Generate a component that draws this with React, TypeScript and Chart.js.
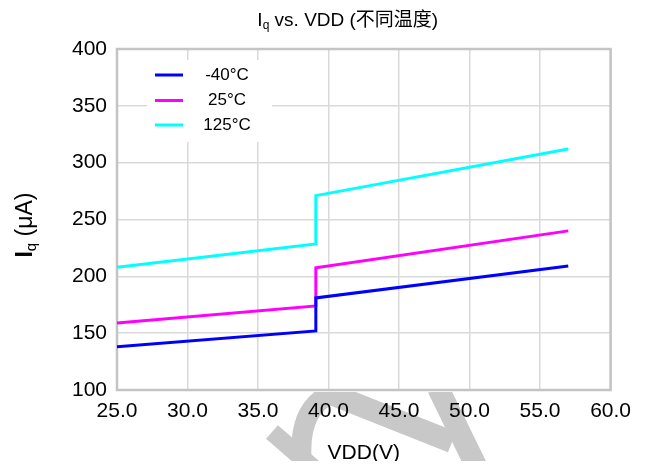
import React, { useEffect, useRef } from "react";
import { Chart, registerables } from "chart.js";

Chart.register(...registerables);

const FONT = "'Liberation Sans', Arial, 'Noto Sans CJK SC', sans-serif";

const seriesLabels = ["-40°C", "25°C", "125°C"];
const seriesColors = ["#0000ff", "#ff00ff", "#00ffff"];
const vdd = [25, 39.1, 39.1, 57];
const iqMinus40 = [138, 152, 181, 209];
const iq25 = [159, 174, 207.5, 240];
const iq125 = [208, 228.5, 271, 312];
const xTicks = [25, 30, 35, 40, 45, 50, 55, 60];
const yTicks = [100, 150, 200, 250, 300, 350, 400];
const titleMain = "I";
const titleSub = "q";
const titleRest = " vs. VDD (不同温度)";
const yTitleSub = "q";
const yTitleRest = " (μA)";
const xTitle = "VDD(V)";

const allSeries = [iqMinus40, iq25, iq125];

function drawSubText(
  ctx: CanvasRenderingContext2D,
  parts: { t: string; size: number; dy: number; bold?: boolean }[],
  cx: number,
  cy: number
) {
  let total = 0;
  const widths = parts.map((p) => {
    ctx.font = `${p.bold ? "bold " : ""}${p.size}px ${FONT}`;
    const w = ctx.measureText(p.t).width;
    total += w;
    return w;
  });
  let x = cx - total / 2;
  ctx.textBaseline = "middle";
  ctx.textAlign = "left";
  parts.forEach((p, i) => {
    ctx.font = `${p.bold ? "bold " : ""}${p.size}px ${FONT}`;
    ctx.fillText(p.t, x, cy + p.dy);
    x += widths[i];
  });
}

const decor = {
  id: "decor",
  beforeDraw(chart: any) {
    const ctx: CanvasRenderingContext2D = chart.ctx;
    const ca = chart.chartArea;
    ctx.save();
    ctx.fillStyle = "#ffffff";
    ctx.fillRect(0, 0, chart.width, chart.height);
    // watermark (page coords minus 8)
    ctx.beginPath();
    ctx.rect(0, ca.bottom + 2, chart.width, chart.height);
    ctx.clip();
    ctx.strokeStyle = "#c8c8c8";
    ctx.lineCap = "butt";
    const o = 8;
    ctx.lineWidth = 18;
    ctx.beginPath();
    ctx.moveTo(272 - o, 432 - o);
    ctx.lineTo(318 - o, 472 - o);
    ctx.stroke();
    ctx.lineWidth = 20;
    ctx.beginPath();
    ctx.moveTo(303 - o, 472 - o);
    ctx.quadraticCurveTo(294 - o, 410 - o, 332 - o, 393 - o);
    ctx.stroke();
    ctx.lineWidth = 22;
    ctx.beginPath();
    ctx.moveTo(326 - o, 392 - o);
    ctx.lineTo(452 - o, 442 - o);
    ctx.stroke();
    ctx.beginPath();
    ctx.moveTo(438 - o, 388 - o);
    ctx.lineTo(480 - o, 474 - o);
    ctx.stroke();
    ctx.restore();
  },
  beforeDatasetsDraw(chart: any) {
    const ctx: CanvasRenderingContext2D = chart.ctx;
    const ca = chart.chartArea;
    ctx.save();
    ctx.strokeStyle = "#c4c4c4";
    ctx.lineWidth = 2.5;
    ctx.strokeRect(ca.left, ca.top, ca.right - ca.left, ca.bottom - ca.top);
    // legend box
    ctx.fillStyle = "#ffffff";
    ctx.fillRect(139, 52, 125, 82);
    const ys = [67, 92.5, 117];
    chart.data.datasets.forEach((ds: any, i: number) => {
      ctx.strokeStyle = ds.borderColor;
      ctx.lineWidth = 3;
      ctx.beginPath();
      ctx.moveTo(147, ys[i]);
      ctx.lineTo(175, ys[i]);
      ctx.stroke();
      ctx.fillStyle = "#000";
      ctx.font = `17px ${FONT}`;
      ctx.textAlign = "center";
      ctx.textBaseline = "middle";
      ctx.fillText(ds.label, 219, ys[i]);
    });
    ctx.restore();
  },
  afterDraw(chart: any) {
    const ctx: CanvasRenderingContext2D = chart.ctx;
    const ca = chart.chartArea;
    ctx.save();
    ctx.fillStyle = "#000";
    const cx = (ca.left + ca.right) / 2;
    drawSubText(
      ctx,
      [
        { t: titleMain, size: 19, dy: 0 },
        { t: titleSub, size: 12, dy: 5 },
        { t: titleRest, size: 19, dy: 0 },
      ],
      cx - 16,
      13
    );
    ctx.font = `21px ${FONT}`;
    ctx.textAlign = "center";
    ctx.textBaseline = "middle";
    ctx.fillText(xTitle, cx, 445);
    ctx.translate(18, 217);
    ctx.rotate(-Math.PI / 2);
    drawSubText(
      ctx,
      [
        { t: "I", size: 23, dy: 0, bold: true },
        { t: yTitleSub, size: 15, dy: 6 },
        { t: yTitleRest, size: 23, dy: 0 },
      ],
      0,
      0
    );
    ctx.restore();
  },
};

export default function App() {
  const ref = useRef<HTMLCanvasElement | null>(null);
  useEffect(() => {
    if (!ref.current) return;
    const chart = new Chart(ref.current, {
      type: "scatter",
      data: {
        datasets: allSeries.map((s, i) => ({
          label: seriesLabels[i],
          data: vdd.map((x, j) => ({ x, y: s[j] })),
          borderColor: seriesColors[i],
          backgroundColor: seriesColors[i],
          borderWidth: 3,
          pointRadius: 0,
          showLine: true,
          fill: false,
          tension: 0,
        })),
      },
      options: {
        animation: false,
        responsive: false,
        layout: { padding: { top: 41, right: 28, left: 0, bottom: 0 } },
        plugins: {
          legend: { display: false },
          title: { display: false },
          tooltip: { enabled: false },
        },
        scales: {
          x: {
            type: "linear",
            min: 25,
            max: 60,
            afterBuildTicks: (s: any) => {
              s.ticks = xTicks.map((v) => ({ value: v }));
            },
            afterFit: (s: any) => {
              s.height = 71;
            },
            ticks: {
              callback: (v: any) => Number(v).toFixed(1),
              font: { size: 21, family: FONT },
              color: "#000",
              padding: 9,
              maxRotation: 0,
              autoSkip: false,
            },
            grid: { color: "#d9d9d9", lineWidth: 1.5, drawTicks: false },
            border: { display: false },
          },
          y: {
            type: "linear",
            min: 100,
            max: 400,
            afterBuildTicks: (s: any) => {
              s.ticks = yTicks.map((v) => ({ value: v }));
            },
            afterFit: (s: any) => {
              s.width = 109;
            },
            ticks: {
              font: { size: 21, family: FONT },
              color: "#000",
              padding: 10,
              autoSkip: false,
            },
            grid: { color: "#d9d9d9", lineWidth: 1.5, drawTicks: false },
            border: { display: false },
          },
        },
      },
      plugins: [decor],
    });
    return () => chart.destroy();
  }, []);
  return (
    <div style={{ width: 632, height: 453 }}>
      <canvas ref={ref} width={632} height={453} style={{ display: "block" }} />
    </div>
  );
}
